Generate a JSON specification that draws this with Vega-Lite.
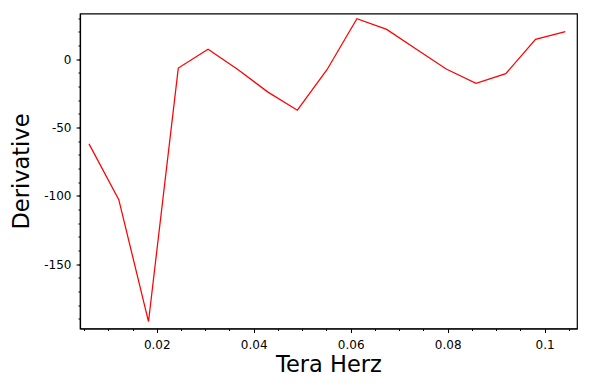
{
  "$schema": "https://vega.github.io/schema/vega-lite/v6.json",
  "width": 497,
  "height": 315,
  "autosize": {"type": "none"},
  "padding": {"left": 80, "top": 13.5, "right": 13, "bottom": 61.5},
  "background": "white",
  "config": {
    "view": {"stroke": "black", "strokeWidth": 1.2},
    "axis": {
      "grid": false,
      "domainColor": "black",
      "domainWidth": 1.2,
      "tickColor": "black",
      "labelColor": "black",
      "titleColor": "black",
      "labelFont": "DejaVu Sans",
      "titleFont": "DejaVu Sans",
      "labelFontSize": 12,
      "titleFontSize": 22.5,
      "titleFontWeight": "normal"
    }
  },
  "data": {
    "values": [
      {"f": 0.00603, "d": -62.0},
      {"f": 0.01217, "d": -102.8},
      {"f": 0.0183, "d": -191.9},
      {"f": 0.02444, "d": -6.6},
      {"f": 0.03058, "d": 7.1},
      {"f": 0.03672, "d": -7.6},
      {"f": 0.04286, "d": -24.0},
      {"f": 0.049, "d": -37.4},
      {"f": 0.05514, "d": -7.6},
      {"f": 0.06128, "d": 29.5},
      {"f": 0.06742, "d": 21.7},
      {"f": 0.07356, "d": 7.1},
      {"f": 0.0797, "d": -7.3},
      {"f": 0.08584, "d": -17.8},
      {"f": 0.09198, "d": -10.7},
      {"f": 0.09812, "d": 14.4},
      {"f": 0.10426, "d": 20.0}
    ]
  },
  "layer": [
    {
      "mark": {"type": "line", "opacity": 0},
      "encoding": {
        "x": {
          "field": "f", "type": "quantitative",
          "scale": {"domain": [0.00417, 0.10667], "nice": false, "zero": false},
          "axis": {
            "orient": "bottom", "values": [0.005, 0.01, 0.015, 0.02, 0.025, 0.03, 0.035, 0.04, 0.045, 0.05, 0.055, 0.06, 0.065, 0.07, 0.075, 0.08, 0.085, 0.09, 0.095, 0.1, 0.105],
            "labels": false, "tickSize": 2, "domain": false, "title": null
          }
        },
        "y": {
          "field": "d", "type": "quantitative",
          "scale": {"domain": [-197, 33.3], "nice": false, "zero": false},
          "axis": {
            "orient": "left", "values": [-190, -180, -170, -160, -150, -140, -130, -120, -110, -100, -90, -80, -70, -60, -50, -40, -30, -20, -10, 0, 10, 20, 30],
            "labels": false, "tickSize": 2, "domain": false, "title": null
          }
        }
      }
    },
    {
      "mark": {"type": "line", "color": "#ff0000", "strokeWidth": 1.25},
      "encoding": {
        "x": {
          "field": "f", "type": "quantitative",
          "axis": {
            "orient": "bottom", "values": [0.02, 0.04, 0.06, 0.08, 0.1],
            "labelExpr": "'' + datum.value",
            "tickSize": 4, "labelPadding": 7, "title": "Tera Herz", "titlePadding": 3
          }
        },
        "y": {
          "field": "d", "type": "quantitative",
          "axis": {
            "orient": "left", "values": [-150, -100, -50, 0],
            "labelExpr": "'' + datum.value",
            "tickSize": 4, "labelPadding": 5, "title": "Derivative", "titlePadding": 10
          }
        }
      }
    }
  ],
  "resolve": {"axis": {"x": "independent", "y": "independent"}}
}
